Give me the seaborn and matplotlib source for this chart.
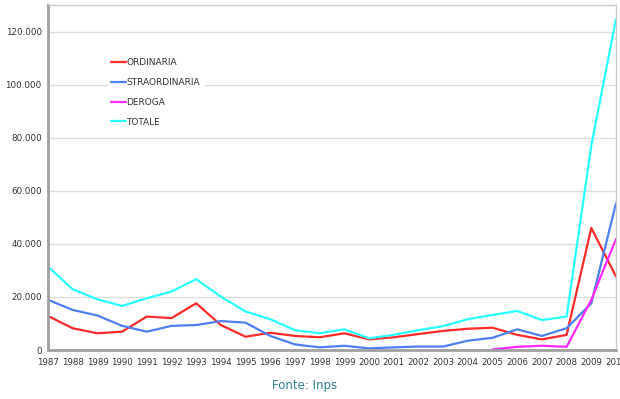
import pandas as pd
import seaborn as sns
import matplotlib.pyplot as plt
from matplotlib.ticker import FuncFormatter

years = list(range(1987, 2011))

ordinaria = [12800, 8200, 6300, 6900, 12600, 12000, 17600, 9400, 5000, 6500, 5300, 4800,
             6300, 4000, 4800, 6000, 7200, 8000, 8400, 5700, 4000, 5700, 46000, 27700]
straordinaria = [18900, 15100, 13000, 9100, 6900, 9100, 9400, 10900, 10300, 5300, 2100, 1000,
                 1600, 600, 1000, 1300, 1300, 3500, 4600, 7800, 5300, 8200, 17600, 55300]
deroga_years = [2005, 2006, 2007, 2008, 2009, 2010]
deroga = [200, 1200, 1600, 1200, 18900, 41800]
totale = [31400, 22900, 19100, 16600, 19500, 22000, 26700, 20100, 14500, 11600, 7500, 6300,
          7800, 4400, 5700, 7500, 9000, 11600, 13200, 14700, 11300, 12600, 77000, 124700]

series = ["ORDINARIA", "STRAORDINARIA", "DEROGA", "TOTALE"]
colors = ["#ff2a2a", "#4f7ff2", "#ff2aff", "#2affff"]

df = pd.concat([
    pd.DataFrame({"anno": years, "valore": ordinaria, "serie": "ORDINARIA"}),
    pd.DataFrame({"anno": years, "valore": straordinaria, "serie": "STRAORDINARIA"}),
    pd.DataFrame({"anno": deroga_years, "valore": deroga, "serie": "DEROGA"}),
    pd.DataFrame({"anno": years, "valore": totale, "serie": "TOTALE"}),
])

sns.set_style("white")
fig = plt.figure(figsize=(6.2, 3.99), dpi=100)
ax = fig.add_axes([48 / 620, 1 - 350 / 399, 568 / 620, 345 / 399])

sns.lineplot(data=df, x="anno", y="valore", hue="serie", hue_order=series,
             palette=dict(zip(series, colors)), linewidth=1.6, ax=ax)

ax.set_xlim(1987, 2010)
ax.set_ylim(0, 130000)
ax.set_xticks(years)
ax.set_xticklabels([str(y) for y in years], fontsize=6.2, color="#333333")
ax.set_yticks(range(0, 130000, 20000))
ax.yaxis.set_major_formatter(FuncFormatter(lambda v, p: f"{int(v):,}".replace(",", ".")))
ax.tick_params(axis="y", labelsize=6.3, labelcolor="#333333", length=3, color="#999999", pad=1.5)
ax.tick_params(axis="x", length=3, color="#999999", pad=3)
ax.set_xlabel("")
ax.set_ylabel("")
ax.grid(axis="y", color="#dddddd", linewidth=1)
ax.set_axisbelow(True)

for s in ["left", "bottom"]:
    ax.spines[s].set_color("#a0a0a0")
    ax.spines[s].set_linewidth(2)
for s in ["top", "right"]:
    ax.spines[s].set_color("#cccccc")
    ax.spines[s].set_linewidth(1)
    ax.spines[s].set_visible(True)

leg = ax.legend(loc="upper left", bbox_to_anchor=(103 / 620, 1 - 50 / 399),
                bbox_transform=fig.transFigure, frameon=True, fontsize=6.5,
                handlelength=1.6, handletextpad=0.1, labelspacing=1.2,
                borderpad=0.4, title=None)
leg.get_frame().set_facecolor("white")
leg.get_frame().set_edgecolor("white")
leg.get_frame().set_alpha(1)
for t in leg.get_texts():
    t.set_color("#333333")

fig.text(305 / 620, 1 - 385 / 399, "Fonte: Inps", color="#2e7f8f", fontsize=8.5,
         ha="center", va="center")

fig.savefig("out.png", dpi=100)
